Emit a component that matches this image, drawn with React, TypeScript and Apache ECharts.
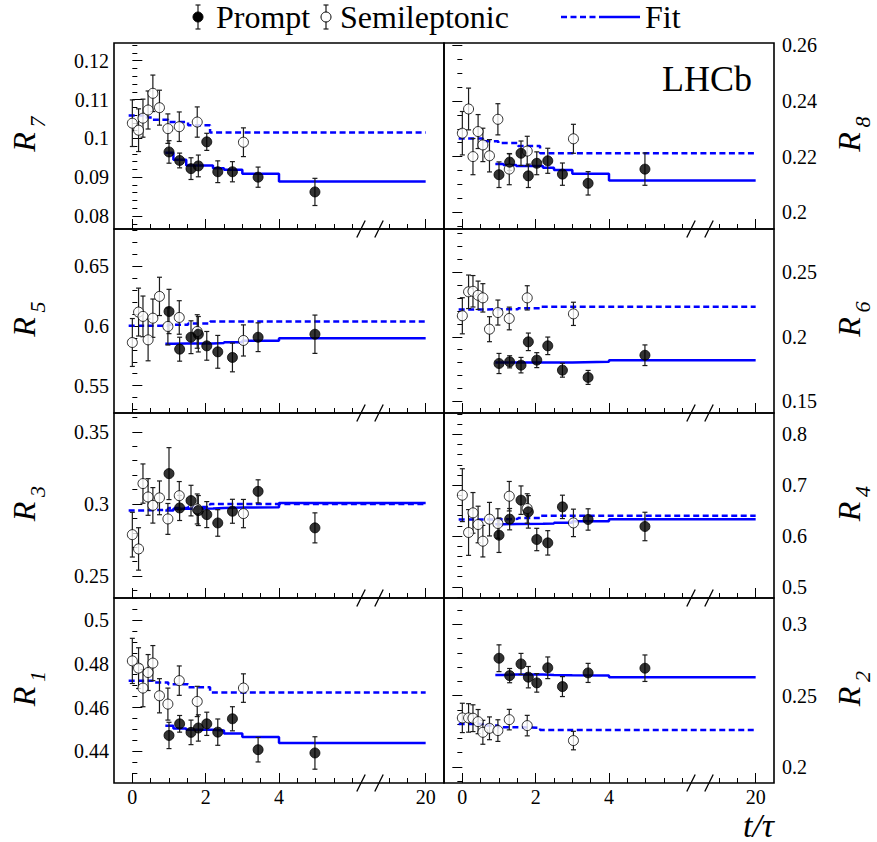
import React, { useEffect, useRef } from 'react';
import * as echarts from 'echarts';

// ---------- data (t in units of tau) ----------
const X_SL = [0, 0.17, 0.29, 0.43, 0.56, 0.74, 0.97, 1.28, 1.77, 3.03];
const X_PR = [1.0, 1.29, 1.6, 1.8, 2.03, 2.33, 2.73, 3.43, 4.98];
const SL_EDGES = [-0.1, 0.3, 0.56, 0.98, 1.52, 2.12, 20];
const PR_EDGES = [0.9, 1.12, 1.47, 2.2, 2.5, 3.0, 4.0, 20];
const X_TICKS = [0, 2, 4, 20];
const X_MINOR = [0.5, 1, 1.5, 2.5, 3, 3.5, 4.5, 5, 5.5, 6, 19, 19.5];

const R7_SL = [0.1039, 0.1021, 0.1052, 0.1073, 0.1116, 0.1079, 0.1025, 0.103, 0.1042, 0.099];
const R7_SL_ERR = [0.006, 0.0055, 0.0049, 0.0049, 0.0047, 0.0045, 0.0038, 0.0038, 0.0039, 0.0037];
const R7_PR = [0.0965, 0.0943, 0.0922, 0.0929, 0.0991, 0.0914, 0.0914, 0.09, 0.0862];
const R7_PR_ERR = [0.0029, 0.0019, 0.0028, 0.0028, 0.0022, 0.0028, 0.0026, 0.0026, 0.0035];
const R7_SL_FIT = [0.1059, 0.1054, 0.1048, 0.1042, 0.1034, 0.1015];
const R7_PR_FIT = [0.0963, 0.0945, 0.093, 0.0923, 0.0919, 0.0909, 0.0889];

const R8_SL = [0.2284, 0.2371, 0.22, 0.229, 0.2242, 0.2203, 0.2334, 0.2155, 0.222, 0.2264];
const R8_SL_ERR = [0.0078, 0.0075, 0.0065, 0.0061, 0.006, 0.0058, 0.0056, 0.0056, 0.0053, 0.0052];
const R8_PR = [0.2135, 0.218, 0.2212, 0.2131, 0.2176, 0.2185, 0.2137, 0.2104, 0.2155];
const R8_PR_ERR = [0.0046, 0.003, 0.0044, 0.0042, 0.0041, 0.0045, 0.004, 0.0042, 0.0058];
const R8_SL_FIT = [0.2265, 0.2265, 0.2255, 0.2249, 0.2238, 0.2212];
const R8_PR_FIT = [0.2173, 0.217, 0.2166, 0.216, 0.2152, 0.2138, 0.2114];

const R5_SL = [0.5861, 0.6115, 0.6079, 0.5883, 0.6064, 0.6246, 0.5995, 0.607, 0.5953, 0.5878];
const R5_SL_ERR = [0.02, 0.02, 0.017, 0.0175, 0.016, 0.016, 0.0155, 0.014, 0.014, 0.013];
const R5_PR = [0.612, 0.5805, 0.5905, 0.593, 0.5833, 0.5783, 0.5736, 0.5905, 0.593];
const R5_PR_ERR = [0.0185, 0.01, 0.0137, 0.0148, 0.012, 0.0137, 0.012, 0.012, 0.016];
const R5_SL_FIT = [0.6, 0.6, 0.6, 0.601, 0.602, 0.6037];
const R5_PR_FIT = [0.585, 0.5852, 0.5853, 0.5857, 0.5863, 0.5875, 0.5897];

const R6_SL = [0.2163, 0.2349, 0.2353, 0.2322, 0.2302, 0.2059, 0.2188, 0.2142, 0.2302, 0.2178];
const R6_SL_ERR = [0.014, 0.013, 0.0122, 0.011, 0.011, 0.0097, 0.0097, 0.0088, 0.0094, 0.009];
const R6_PR = [0.1793, 0.1806, 0.178, 0.1961, 0.1819, 0.193, 0.1741, 0.1685, 0.1857];
const R6_PR_ERR = [0.0078, 0.0047, 0.006, 0.0068, 0.0058, 0.0068, 0.0054, 0.0054, 0.008];
const R6_SL_FIT = [0.2212, 0.2212, 0.2213, 0.2214, 0.2222, 0.2233];
const R6_PR_FIT = [0.1801, 0.1801, 0.1801, 0.18, 0.1801, 0.1806, 0.1819];

const R3_SL = [0.2787, 0.2688, 0.3141, 0.3048, 0.299, 0.3042, 0.2896, 0.3057, 0.2965, 0.2933];
const R3_SL_ERR = [0.0155, 0.0147, 0.0136, 0.0127, 0.0123, 0.0117, 0.0107, 0.0098, 0.0104, 0.0098];
const R3_PR = [0.321, 0.2972, 0.3023, 0.2954, 0.2926, 0.2868, 0.2949, 0.3087, 0.2834];
const R3_PR_ERR = [0.018, 0.0087, 0.0106, 0.0104, 0.009, 0.0092, 0.0083, 0.008, 0.0104];
const R3_SL_FIT = [0.2955, 0.2956, 0.296, 0.2972, 0.2978, 0.3];
const R3_PR_FIT = [0.2954, 0.2966, 0.2968, 0.2972, 0.2975, 0.2977, 0.3007];

const R4_SL = [0.6803, 0.6069, 0.6455, 0.6226, 0.5898, 0.6331, 0.6246, 0.6783, 0.6541, 0.6258];
const R4_SL_ERR = [0.052, 0.045, 0.04, 0.036, 0.031, 0.033, 0.029, 0.029, 0.029, 0.027];
const R4_PR = [0.6016, 0.6331, 0.6705, 0.6475, 0.5931, 0.5865, 0.6573, 0.6325, 0.6187];
const R4_PR_ERR = [0.034, 0.021, 0.028, 0.032, 0.022, 0.024, 0.023, 0.021, 0.028];
const R4_SL_FIT = [0.6325, 0.6325, 0.6325, 0.6338, 0.6355, 0.6396];
const R4_PR_FIT = [0.6232, 0.6236, 0.624, 0.6245, 0.626, 0.6291, 0.6331];

const R1_SL = [0.4813, 0.478, 0.4689, 0.476, 0.4803, 0.4654, 0.4616, 0.4723, 0.4628, 0.4689];
const R1_SL_ERR = [0.0103, 0.0093, 0.0085, 0.0082, 0.008, 0.0078, 0.0073, 0.0067, 0.0069, 0.0065];
const R1_PR = [0.4473, 0.4526, 0.4487, 0.4507, 0.4526, 0.4488, 0.4549, 0.4408, 0.4393];
const R1_PR_ERR = [0.006, 0.0038, 0.0056, 0.006, 0.0053, 0.006, 0.0055, 0.0056, 0.0074];
const R1_SL_FIT = [0.4723, 0.4723, 0.4714, 0.4707, 0.4693, 0.4669];
const R1_PR_FIT = [0.4517, 0.4505, 0.4499, 0.4496, 0.4482, 0.4466, 0.4438];

const R2_SL = [0.2343, 0.2343, 0.2341, 0.2317, 0.2242, 0.227, 0.2254, 0.2331, 0.2289, 0.2184];
const R2_SL_ERR = [0.0103, 0.01, 0.0094, 0.0085, 0.0084, 0.008, 0.0076, 0.0072, 0.0072, 0.0065];
const R2_PR = [0.2762, 0.264, 0.2722, 0.2629, 0.2589, 0.2695, 0.2563, 0.2659, 0.2692];
const R2_PR_ERR = [0.0094, 0.005, 0.0074, 0.0075, 0.0065, 0.0076, 0.007, 0.0067, 0.0093];
const R2_SL_FIT = [0.2301, 0.2301, 0.229, 0.2278, 0.2274, 0.2259];
const R2_PR_FIT = [0.2645, 0.2647, 0.2647, 0.2645, 0.2643, 0.264, 0.2629];

const PANELS = [
  { sub: '7', col: 0, row: 0, min: 0.07665, max: 0.12456, major: [0.08, 0.09, 0.1, 0.11, 0.12], step: 0.002, sl: R7_SL, slErr: R7_SL_ERR, pr: R7_PR, prErr: R7_PR_ERR, slFit: R7_SL_FIT, prFit: R7_PR_FIT },
  { sub: '8', col: 1, row: 0, min: 0.194, max: 0.2608, major: [0.2, 0.22, 0.24, 0.26], step: 0.005, sl: R8_SL, slErr: R8_SL_ERR, pr: R8_PR, prErr: R8_PR_ERR, slFit: R8_SL_FIT, prFit: R8_PR_FIT },
  { sub: '5', col: 0, row: 1, min: 0.5272, max: 0.6809, major: [0.55, 0.6, 0.65], step: 0.01, sl: R5_SL, slErr: R5_SL_ERR, pr: R5_PR, prErr: R5_PR_ERR, slFit: R5_SL_FIT, prFit: R5_PR_FIT },
  { sub: '6', col: 1, row: 1, min: 0.1409, max: 0.2836, major: [0.15, 0.2, 0.25], step: 0.01, sl: R6_SL, slErr: R6_SL_ERR, pr: R6_PR, prErr: R6_PR_ERR, slFit: R6_SL_FIT, prFit: R6_PR_FIT },
  { sub: '3', col: 0, row: 2, min: 0.2348, max: 0.363, major: [0.25, 0.3, 0.35], step: 0.01, sl: R3_SL, slErr: R3_SL_ERR, pr: R3_PR, prErr: R3_PR_ERR, slFit: R3_SL_FIT, prFit: R3_PR_FIT },
  { sub: '4', col: 1, row: 2, min: 0.478, max: 0.842, major: [0.5, 0.6, 0.7, 0.8], step: 0.02, sl: R4_SL, slErr: R4_SL_ERR, pr: R4_PR, prErr: R4_PR_ERR, slFit: R4_SL_FIT, prFit: R4_PR_FIT },
  { sub: '1', col: 0, row: 3, min: 0.4256, max: 0.51, major: [0.44, 0.46, 0.48, 0.5], step: 0.005, sl: R1_SL, slErr: R1_SL_ERR, pr: R1_PR, prErr: R1_PR_ERR, slFit: R1_SL_FIT, prFit: R1_PR_FIT },
  { sub: '2', col: 1, row: 3, min: 0.1886, max: 0.3185, major: [0.2, 0.25, 0.3], step: 0.01, sl: R2_SL, slErr: R2_SL_ERR, pr: R2_PR, prErr: R2_PR_ERR, slFit: R2_SL_FIT, prFit: R2_PR_FIT },
];

// ---------- layout ----------
const COL_LEFT = [114, 444];
const COL_W = 330;
const ROW_TOP = [43, 229, 413, 598];
const ROW_H = [186, 184, 185, 185];
const FIT_BLUE = '#0000ff';
const SERIF = 'Liberation Serif';

// broken axis: values beyond the break are shifted left by 12
const toAxis = (t: number) => (t > 6.3 ? t - 12 : t);
const fromAxis = (v: number) => (v > 6.3 ? v + 12 : v);

function stepLine(edges: number[], vals: number[]) {
  const pts: number[][] = [];
  for (let i = 0; i < vals.length; i++) {
    pts.push([toAxis(edges[i]), vals[i]]);
    pts.push([toAxis(edges[i + 1]), vals[i]]);
  }
  return pts;
}

function minorTicks(min: number, max: number, step: number, major: number[]) {
  const out: number[] = [];
  const start = Math.ceil(min / step - 1e-9);
  const end = Math.floor(max / step + 1e-9);
  for (let k = start; k <= end; k++) {
    const v = +(k * step).toFixed(6);
    if (!major.some((m) => Math.abs(m - v) < 1e-9)) out.push(v);
  }
  return out;
}

const errRender = (params: any, api: any) => {
  const x = api.value(0);
  const lo = api.value(2);
  const hi = api.value(3);
  const a = api.coord([x, hi]);
  const b = api.coord([x, lo]);
  const st = { stroke: '#1a1a1a', lineWidth: 1.2 };
  const w = 2.5;
  return {
    type: 'group',
    children: [
      { type: 'line', shape: { x1: a[0], y1: a[1], x2: b[0], y2: b[1] }, style: st },
      { type: 'line', shape: { x1: a[0] - w, y1: a[1], x2: a[0] + w, y2: a[1] }, style: st },
      { type: 'line', shape: { x1: b[0] - w, y1: b[1], x2: b[0] + w, y2: b[1] }, style: st },
    ],
  };
};

function buildOption() {
  const grid: any[] = [];
  const xAxis: any[] = [];
  const yAxis: any[] = [];
  const series: any[] = [];
  const graphic: any[] = [];

  PANELS.forEach((p, i) => {
    grid.push({
      left: COL_LEFT[p.col],
      top: ROW_TOP[p.row],
      width: COL_W,
      height: ROW_H[p.row],
      show: true,
      borderColor: '#000',
      borderWidth: 1.6,
      backgroundColor: 'transparent',
      containLabel: false,
    });
    const xCommon = {
      type: 'value',
      gridIndex: i,
      min: -0.5,
      max: 8.5,
      position: 'bottom',
      axisLine: { show: false },
      splitLine: { show: false },
    };
    xAxis.push({
      ...xCommon,
      axisTick: { show: true, inside: true, length: 10, customValues: X_TICKS.map(toAxis), lineStyle: { color: '#000', width: 1 } },
      axisLabel: {
        show: p.row === 3,
        customValues: X_TICKS.map(toAxis),
        formatter: (v: number) => String(Math.round(fromAxis(v))),
        color: '#000',
        fontFamily: SERIF,
        fontSize: 20,
        margin: 4,
      },
    });
    xAxis.push({
      ...xCommon,
      axisTick: { show: true, inside: true, length: 5, customValues: X_MINOR.map(toAxis), lineStyle: { color: '#000', width: 1 } },
      axisLabel: { show: false },
    });
    const yCommon = {
      type: 'value',
      gridIndex: i,
      min: p.min,
      max: p.max,
      position: p.col === 0 ? 'left' : 'right',
      axisLine: { show: false },
      splitLine: { show: false },
    };
    yAxis.push({
      ...yCommon,
      axisTick: { show: true, inside: true, length: 10, customValues: p.major, lineStyle: { color: '#000', width: 1 } },
      axisLabel: {
        show: true,
        customValues: p.major,
        formatter: (v: number) => String(parseFloat((+v).toFixed(4))),
        color: '#000',
        fontFamily: SERIF,
        fontSize: 20,
        margin: p.col === 0 ? 5 : 8,
      },
    });
    yAxis.push({
      ...yCommon,
      axisTick: { show: true, inside: true, length: 5, customValues: minorTicks(p.min, p.max, p.step, p.major), lineStyle: { color: '#000', width: 1 } },
      axisLabel: { show: false },
    });

    const xi = 2 * i;
    const yi = 2 * i;
    series.push({
      type: 'line',
      xAxisIndex: xi,
      yAxisIndex: yi,
      data: stepLine(SL_EDGES, p.slFit),
      symbol: 'none',
      lineStyle: { color: FIT_BLUE, width: 2.5, type: [6, 3.5] },
      z: 2,
      silent: true,
    });
    series.push({
      type: 'line',
      xAxisIndex: xi,
      yAxisIndex: yi,
      data: stepLine(PR_EDGES, p.prFit),
      symbol: 'none',
      lineStyle: { color: FIT_BLUE, width: 2.5 },
      z: 2,
      silent: true,
    });
    series.push({
      type: 'custom',
      xAxisIndex: xi,
      yAxisIndex: yi,
      renderItem: errRender,
      data: X_SL.map((x, k) => [x, p.sl[k], p.sl[k] - p.slErr[k], p.sl[k] + p.slErr[k]]),
      encode: { x: 0, y: 1 },
      z: 3,
      silent: true,
    });
    series.push({
      type: 'custom',
      xAxisIndex: xi,
      yAxisIndex: yi,
      renderItem: errRender,
      data: X_PR.map((x, k) => [x, p.pr[k], p.pr[k] - p.prErr[k], p.pr[k] + p.prErr[k]]),
      encode: { x: 0, y: 1 },
      z: 3,
      silent: true,
    });
    series.push({
      type: 'scatter',
      xAxisIndex: xi,
      yAxisIndex: yi,
      data: X_SL.map((x, k) => [x, p.sl[k]]),
      symbol: 'circle',
      symbolSize: 10,
      itemStyle: { color: '#fff', borderColor: '#000', borderWidth: 1 },
      z: 4,
      silent: true,
    });
    series.push({
      type: 'scatter',
      xAxisIndex: xi,
      yAxisIndex: yi,
      data: X_PR.map((x, k) => [x, p.pr[k]]),
      symbol: 'circle',
      symbolSize: 10,
      itemStyle: { color: '#000', borderColor: '#000', borderWidth: 1 },
      z: 4,
      silent: true,
    });

    // axis name R_n
    const cy = ROW_TOP[p.row] + ROW_H[p.row] / 2;
    const rx = p.col === 0 ? 24 : 849;
    graphic.push({
      type: 'text',
      x: rx,
      y: cy + 6,
      rotation: Math.PI / 2,
      style: { text: 'R', font: `italic 32px ${SERIF}`, fill: '#000', align: 'center', verticalAlign: 'middle' },
    });
    graphic.push({
      type: 'text',
      x: rx + 13,
      y: cy - 14,
      rotation: Math.PI / 2,
      style: { text: p.sub, font: `italic 22px ${SERIF}`, fill: '#000', align: 'center', verticalAlign: 'middle' },
    });
  });

  // axis break marks
  const breakX = [361, 379, 691, 709];
  [229, 413, 598, 783].forEach((by) => {
    breakX.forEach((bx) => {
      graphic.push({
        type: 'line',
        shape: { x1: bx - 4.2, y1: by + 8.5, x2: bx + 4.2, y2: by - 8.5 },
        style: { stroke: '#000', lineWidth: 1.3 },
        z: 100,
      });
    });
  });

  // legend
  const ly = 17;
  const errLeg = (x: number) => [
    { type: 'line', shape: { x1: x, y1: ly - 12, x2: x, y2: ly + 12 }, style: { stroke: '#1a1a1a', lineWidth: 1.2 } },
    { type: 'line', shape: { x1: x - 2.5, y1: ly - 12, x2: x + 2.5, y2: ly - 12 }, style: { stroke: '#1a1a1a', lineWidth: 1.2 } },
    { type: 'line', shape: { x1: x - 2.5, y1: ly + 12, x2: x + 2.5, y2: ly + 12 }, style: { stroke: '#1a1a1a', lineWidth: 1.2 } },
  ];
  graphic.push(...errLeg(198));
  graphic.push({ type: 'circle', shape: { cx: 198, cy: ly, r: 5 }, style: { fill: '#000', stroke: '#000', lineWidth: 1 } });
  graphic.push({ type: 'text', x: 216, y: ly, style: { text: 'Prompt', font: `32px ${SERIF}`, fill: '#000', align: 'left', verticalAlign: 'middle' } });
  graphic.push(...errLeg(326));
  graphic.push({ type: 'circle', shape: { cx: 326, cy: ly, r: 5 }, style: { fill: '#fff', stroke: '#000', lineWidth: 1 } });
  graphic.push({ type: 'text', x: 340, y: ly, style: { text: 'Semileptonic', font: `32px ${SERIF}`, fill: '#000', align: 'left', verticalAlign: 'middle' } });
  graphic.push({ type: 'line', shape: { x1: 561, y1: ly, x2: 599, y2: ly }, style: { stroke: FIT_BLUE, lineWidth: 2.5, lineDash: [6, 3.5] } });
  graphic.push({ type: 'line', shape: { x1: 599, y1: ly, x2: 640, y2: ly }, style: { stroke: FIT_BLUE, lineWidth: 2.5 } });
  graphic.push({ type: 'text', x: 645, y: ly, style: { text: 'Fit', font: `32px ${SERIF}`, fill: '#000', align: 'left', verticalAlign: 'middle' } });

  // LHCb label
  graphic.push({ type: 'text', x: 752, y: 79, style: { text: 'LHCb', font: `36px ${SERIF}`, fill: '#000', align: 'right', verticalAlign: 'middle' } });
  // x-axis title
  graphic.push({ type: 'text', x: 774, y: 825, style: { text: 't/\u03c4', font: `italic 34px ${SERIF}`, fill: '#000', align: 'right', verticalAlign: 'middle' } });

  return {
    animation: false,
    backgroundColor: '#fff',
    textStyle: { fontFamily: SERIF },
    grid,
    xAxis,
    yAxis,
    series,
    graphic,
  };
}

export default function App() {
  const ref = useRef<HTMLDivElement>(null);
  useEffect(() => {
    if (!ref.current) return;
    const chart = echarts.init(ref.current, undefined, { renderer: 'svg' });
    chart.setOption(buildOption() as any);
    return () => chart.dispose();
  }, []);
  return (
    <div
      ref={ref}
      style={{ position: 'absolute', left: 0, top: 0, width: 877, height: 842, background: '#fff' }}
    />
  );
}
